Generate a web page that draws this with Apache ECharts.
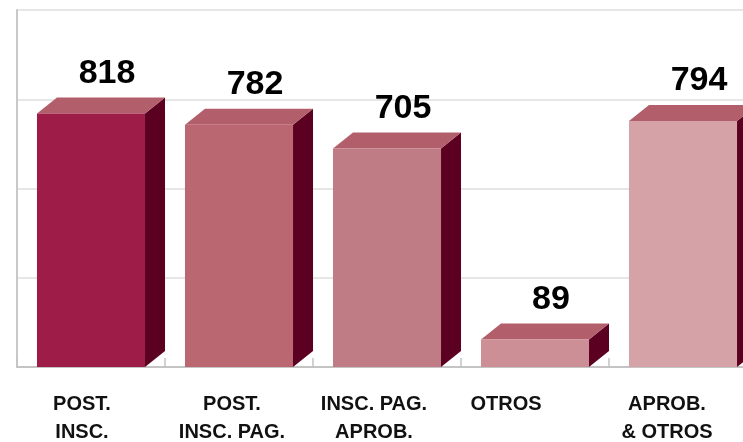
<!DOCTYPE html>
<html>
<head>
<meta charset="utf-8">
<script src="https://cdn.jsdelivr.net/npm/echarts@6/dist/echarts.min.js"></script>
<style>
html,body{margin:0;padding:0;background:#fff;}
#chart{width:743px;height:442px;}
</style>
</head>
<body>
<div id="chart"></div>
<script>
const categories = ['POST.\nINSC.', 'POST.\nINSC. PAG.', 'INSC. PAG.\nAPROB.', 'OTROS', 'APROB.\n& OTROS'];
const values = [818, 782, 705, 89, 794];
const frontColors = ['#9e1c48', '#bb6771', '#c07c84', '#cb8f95', '#d5a3a7'];
const topColor = '#b35e6b';
const sideColor = '#5c0022';
const FONT = '"Liberation Sans", Arial, Helvetica, sans-serif';
const labelShift = [18, 14, 26, 58, 32];

const chart = echarts.init(document.getElementById('chart'), null, {renderer: 'canvas'});

const rich = {};
labelShift.forEach((p, i) => {
  rich['s' + i] = {
    fontFamily: FONT, fontWeight: 'bold', fontSize: 20, lineHeight: 28,
    color: '#111', padding: [0, p, 0, 0]
  };
});

const option = {
  animation: false,
  backgroundColor: '#ffffff',
  grid: {left: 17, right: -14, top: 10, bottom: 75, containLabel: false, outerBoundsMode: 'none'},
  xAxis: {
    type: 'category',
    data: categories,
    axisLine: {show: true, lineStyle: {color: '#c4c4c4', width: 2}},
    axisTick: {show: true, inside: true, length: 9, lineStyle: {color: '#c4c4c4', width: 1.5}},
    axisLabel: {
      interval: 0,
      margin: 23,
      verticalAlign: 'top',
      formatter: function (val, idx) {
        return val.split('\n').map(l => '{s' + idx + '|' + l + '}').join('\n');
      },
      rich: rich
    }
  },
  yAxis: {
    type: 'value',
    min: 0, max: 1152, interval: 288,
    axisLabel: {show: false},
    axisTick: {show: false},
    axisLine: {show: true, lineStyle: {color: '#c8c8c8', width: 2}},
    splitLine: {show: true, lineStyle: {color: '#e6e6e6', width: 2}}
  },
  series: [{
    type: 'custom',
    data: values.map((v, i) => [i, v]),
    renderItem: function (params, api) {
      const idx = api.value(0);
      const v = api.value(1);
      const top = api.coord([idx, v]);
      const base = api.coord([idx, 0]);
      const band = api.size([1, 0])[0];
      const w = band * 0.73;
      const dx = 20, dy = 16;
      const L = top[0] - w / 2, R = top[0] + w / 2;
      const ty = top[1], by = base[1];
      return {
        type: 'group',
        children: [
          {type: 'polygon', shape: {points: [[R, ty], [R + dx, ty - dy], [R + dx, by - dy], [R, by]]}, style: {fill: sideColor}},
          {type: 'polygon', shape: {points: [[L, ty], [L + dx, ty - dy], [R + dx, ty - dy], [R, ty]]}, style: {fill: topColor}},
          {type: 'rect', shape: {x: L, y: ty, width: w, height: by - ty}, style: {fill: frontColors[idx]}},
          {type: 'text', x: top[0] + 16, y: ty - 40, style: {text: String(v), font: 'bold 34px ' + FONT, fill: '#000', align: 'center', verticalAlign: 'middle'}}
        ]
      };
    }
  }]
};
chart.setOption(option);
</script>
</body>
</html>
